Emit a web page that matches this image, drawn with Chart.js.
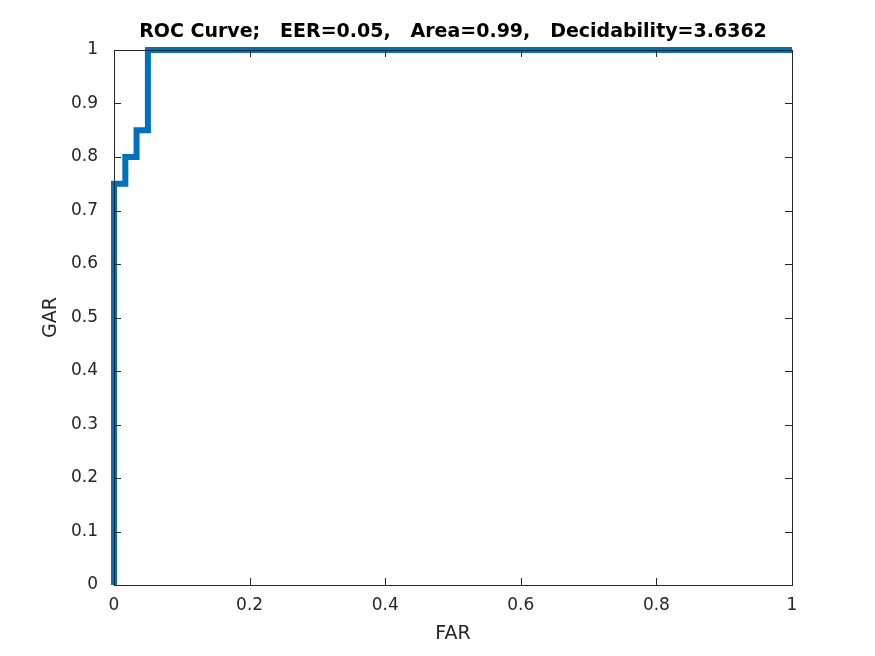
<!DOCTYPE html>
<html><head><meta charset="utf-8">
<script src="https://cdn.jsdelivr.net/npm/chart.js@4"></script>
<style>body{margin:0;background:#fff}#wrap{width:875px;height:656px}</style>
</head><body><div id="wrap"><canvas id="c"></canvas></div>
<script>
// ROC step curve vertices (FAR, GAR)
const farVals = [0, 0, 0.0167, 0.0167, 0.0333, 0.0333, 0.05, 0.05, 1];
const garVals = [0, 0.75, 0.75, 0.8, 0.8, 0.85, 0.85, 1, 1];
const xTicks = [0, 0.2, 0.4, 0.6, 0.8, 1];
const yTicks = [0, 0.1, 0.2, 0.3, 0.4, 0.5, 0.6, 0.7, 0.8, 0.9, 1];
const titleText = 'ROC Curve;   EER=0.05,   Area=0.99,   Decidability=3.6362';
const xLabel = 'FAR', yLabel = 'GAR';

const boxPlugin = {
  id:'box',
  afterDatasetsDraw(chart){
    const {ctx, chartArea:a, scales:{x,y}} = chart;
    ctx.save(); ctx.strokeStyle='#262626'; ctx.lineWidth=1;
    ctx.strokeRect(a.left+0.5, a.top+0.5, a.right-a.left, a.bottom-a.top);
    ctx.beginPath();
    xTicks.forEach(v=>{ const p=Math.round(x.getPixelForValue(v))+0.5;
      ctx.moveTo(p,a.bottom); ctx.lineTo(p,a.bottom-7); ctx.moveTo(p,a.top); ctx.lineTo(p,a.top+7); });
    yTicks.forEach(v=>{ const p=Math.round(y.getPixelForValue(v))+0.5;
      ctx.moveTo(a.left,p); ctx.lineTo(a.left+7,p); ctx.moveTo(a.right,p); ctx.lineTo(a.right-7,p); });
    ctx.stroke();
    const cx = (a.left+a.right)/2, cy = (a.top+a.bottom)/2;
    ctx.textAlign='center'; ctx.textBaseline='middle';
    ctx.fillStyle='#000'; ctx.font='bold 19px "DejaVu Sans"';
    ctx.fillText(titleText, cx, 32);
    ctx.fillStyle='#262626'; ctx.font='19px "DejaVu Sans"';
    ctx.fillText(xLabel, cx, 634);
    ctx.translate(51, cy); ctx.rotate(-Math.PI/2); ctx.fillText(yLabel, 0, 0);
    ctx.restore();
  }
};

new Chart(document.getElementById('c'), {
  type:'scatter',
  data:{ datasets:[{ data: farVals.map((v,i)=>({x:v,y:garVals[i]})), showLine:true,
    borderColor:'#0072bd', borderWidth:6, pointRadius:0, fill:false, clip:false }] },
  options:{
    responsive:true, maintainAspectRatio:false, animation:false,
    layout:{padding:{left:0,right:83,top:50,bottom:0}},
    plugins:{ legend:{display:false}, tooltip:{enabled:false}, title:{display:false} },
    scales:{
      x:{ type:'linear', min:0, max:1, grid:{display:false}, border:{display:false},
        afterBuildTicks(s){ s.ticks = xTicks.map(v=>({value:v})); },
        afterFit(s){ s.height = 71; },
        ticks:{ color:'#262626', font:{family:'DejaVu Sans', size:17}, padding:2, maxRotation:0, callback:v=>String(v) } },
      y:{ min:0, max:1, grid:{display:false}, border:{display:false},
        afterBuildTicks(s){ s.ticks = yTicks.map(v=>({value:v})); },
        afterFit(s){ s.width = 114; },
        ticks:{ color:'#262626', font:{family:'DejaVu Sans', size:17}, padding:8, callback:v=>String(v) } }
    }
  },
  plugins:[boxPlugin]
});
</script></body></html>
